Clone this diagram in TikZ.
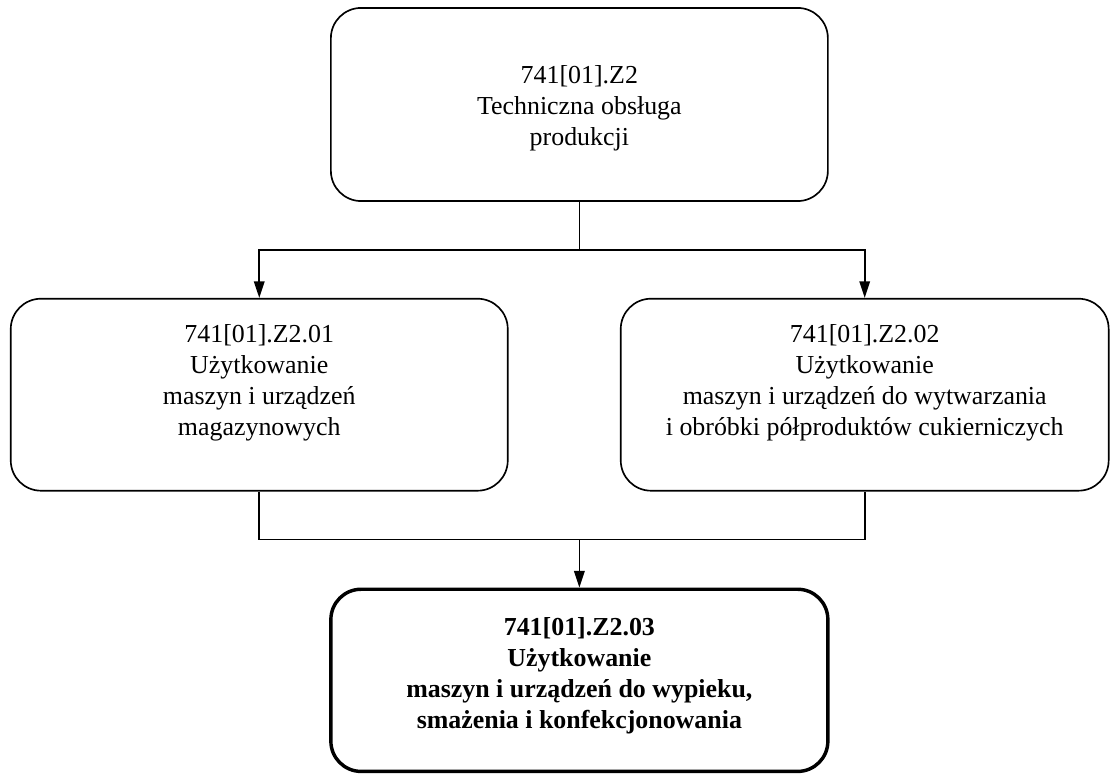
\documentclass[tikz,border=0pt]{standalone}
\usepackage{fontspec}
\setmainfont{Liberation Serif}
\usetikzlibrary{arrows.meta,positioning}

\begin{document}
\begin{tikzpicture}[
  >={Triangle[length=4.4mm,width=2.8mm]},
  unit/.style={draw,line width=1.25pt,rounded corners=8mm,minimum width=131.5mm,minimum height=50.8mm,inner sep=0pt},
  goal/.style={unit,line width=2.6pt,minimum height=48.2mm},
  lbl/.style={align=center,inner sep=0pt,font=\fontsize{19.5}{23.3}\selectfont},
  lblb/.style={lbl,font=\fontsize{19.5}{23.3}\selectfont\bfseries},
  edge/.style={->,line width=1.25pt}
]
\useasboundingbox (-153.3mm,27.65mm) rectangle (140.4mm,-177.7mm);
\node[unit,minimum height=51.1mm] (t) {};
\node[unit,below=25.4mm of t,xshift=-84.7mm] (l) {};
\node[unit,minimum width=129.1mm,below=25.4mm of t,xshift=75.5mm] (r) {};
\node[goal,below=25.4mm of l,xshift=84.7mm] (b) {};
\node[lbl,below=15.4mm of t.north] (tt) {741[01].Z2\\Techniczna obsługa\\produkcji};
\node[lbl,below=7.1mm of l.north] (lt) {741[01].Z2.01\\Użytkowanie\\maszyn i urządzeń\\magazynowych};
\node[lbl,below=7.1mm of r.north] (rt) {741[01].Z2.02\\Użytkowanie\\maszyn i urządzeń do wytwarzania\\i obróbki półproduktów cukierniczych};
\node[lblb,below=7.9mm of b.north] (bt) {741[01].Z2.03\\Użytkowanie\\maszyn i urządzeń do wypieku,\\smażenia i konfekcjonowania};
\coordinate[below=12.7mm of t.south] (tj);
\coordinate[above=12.7mm of b.north] (bj);
\draw[edge,-] (t.south) -- (tj);
\foreach \x in {l,r} \draw[edge] (tj) -| (\x.north);
\draw[edge,-] (l.south) |- (bj) -| (r.south);
\draw[edge] (bj) -- (b.north);
\end{tikzpicture}
\end{document}
